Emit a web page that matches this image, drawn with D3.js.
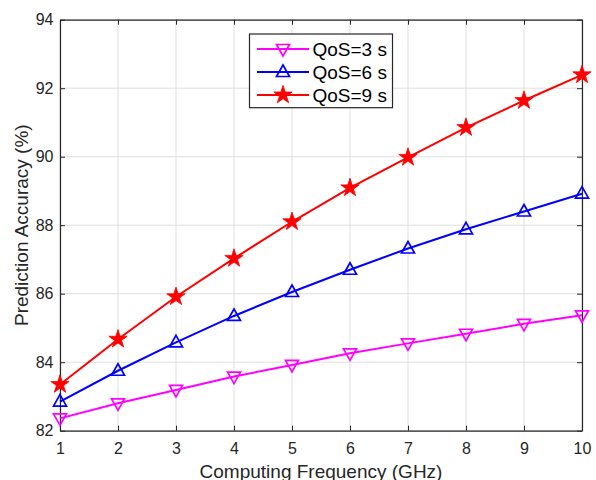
<!DOCTYPE html>
<html><head><meta charset="utf-8">
<script src="https://cdn.jsdelivr.net/npm/d3@7"></script>
<style>body{margin:0;background:#fff}svg{display:block}text{font-family:"Liberation Sans",Arial,sans-serif}</style>
</head><body><svg id="c" width="596" height="480"></svg>
<script>
const freq = [1,2,3,4,5,6,7,8,9,10];
const qos3 = [82.36,82.80,83.19,83.58,83.92,84.26,84.55,84.83,85.12,85.37];
const qos6 = [82.85,83.75,84.58,85.35,86.05,86.70,87.32,87.88,88.40,88.92];
const qos9 = [83.35,84.67,85.91,87.03,88.10,89.09,89.98,90.85,91.64,92.39];
const seriesNames = ["QoS=3 s","QoS=6 s","QoS=9 s"];
const xTicks = [1,2,3,4,5,6,7,8,9,10];
const yTicks = [82,84,86,88,90,92,94];

const svg = d3.select("#c");
const L=60,R=582,T=19.7,B=430.7;
const x = d3.scaleLinear().domain([1,10]).range([L,R]);
const y = d3.scaleLinear().domain([82,94]).range([B,T]);
const axc="#262626";

// grid
svg.append("g").selectAll("line").data(xTicks).join("line")
  .attr("x1",d=>x(d)).attr("x2",d=>x(d)).attr("y1",T).attr("y2",B)
  .attr("stroke","#dfdfdf").attr("stroke-width",1);
svg.append("g").selectAll("line").data(yTicks).join("line")
  .attr("y1",d=>y(d)).attr("y2",d=>y(d)).attr("x1",L).attr("x2",R)
  .attr("stroke","#dfdfdf").attr("stroke-width",1);

// axes
const fmt = d3.format("d");
const gx = svg.append("g").attr("transform",`translate(0,${B})`)
  .call(d3.axisBottom(x).tickValues(xTicks).tickFormat(fmt).tickSizeInner(-5).tickSizeOuter(0).tickPadding(12));
const gxt = svg.append("g").attr("transform",`translate(0,${T})`)
  .call(d3.axisTop(x).tickValues(xTicks).tickFormat("").tickSizeInner(-5).tickSizeOuter(0));
const gy = svg.append("g").attr("transform",`translate(${L},0)`)
  .call(d3.axisLeft(y).tickValues(yTicks).tickFormat(fmt).tickSizeInner(-5).tickSizeOuter(0).tickPadding(6.5));
const gyr = svg.append("g").attr("transform",`translate(${R},0)`)
  .call(d3.axisRight(y).tickValues(yTicks).tickFormat("").tickSizeInner(-5).tickSizeOuter(0));
[gx,gxt,gy,gyr].forEach(g=>{
  g.select(".domain").attr("stroke",axc).attr("stroke-width",1.2);
  g.selectAll(".tick line").attr("stroke",axc).attr("stroke-width",1);
  g.selectAll(".tick text").attr("fill",axc).style("font-size","16px").style("font-family","Liberation Sans, Arial, sans-serif");
});

// labels
svg.append("text").attr("x",321).attr("y",478).attr("text-anchor","middle")
  .attr("fill",axc).style("font-size","19px").text("Computing Frequency (GHz)");
svg.append("text").attr("transform",`translate(28,${(T+B)/2}) rotate(-90)`).attr("text-anchor","middle")
  .attr("fill",axc).style("font-size","19px").text("Prediction Accuracy (%)");

// series
const series = [
  {name:seriesNames[0], vals:qos3, color:"#ff00ff", marker:"down"},
  {name:seriesNames[1], vals:qos6, color:"#0000ff", marker:"up"},
  {name:seriesNames[2], vals:qos9, color:"#ff0000", marker:"star"}
];
const line = d3.line().x((d,i)=>x(freq[i])).y(d=>y(d));
function drawMarker(g, type, cx, cy, color){
  if(type==="up"){
    g.append("path").attr("d",`M${cx},${cy-7}L${cx+6.5},${cy+4.5}L${cx-6.5},${cy+4.5}Z`)
     .attr("fill","none").attr("stroke",color).attr("stroke-width",1.7);
  } else if(type==="down"){
    g.append("path").attr("d",`M${cx},${cy+7}L${cx+6.5},${cy-4.5}L${cx-6.5},${cy-4.5}Z`)
     .attr("fill","none").attr("stroke",color).attr("stroke-width",1.7);
  } else {
    g.append("path").attr("d",d3.symbol(d3.symbolStar,105)())
     .attr("transform",`translate(${cx},${cy})`).attr("fill",color).attr("stroke",color).attr("stroke-width",0.8);
  }
}
series.forEach(s=>{
  svg.append("path").datum(s.vals).attr("d",line).attr("fill","none")
    .attr("stroke",s.color).attr("stroke-width",2);
  const g = svg.append("g");
  s.vals.forEach((v,i)=>drawMarker(g,s.marker,x(freq[i]),y(v),s.color));
});

// legend
const lg = svg.append("g");
lg.append("rect").attr("x",249.5).attr("y",34).attr("width",143).attr("height",73.7)
  .attr("fill","#fff").attr("stroke",axc).attr("stroke-width",1.2);
series.forEach((s,i)=>{
  const yy = 49 + i*23;
  lg.append("line").attr("x1",257).attr("x2",309).attr("y1",yy).attr("y2",yy)
    .attr("stroke",s.color).attr("stroke-width",2);
  drawMarker(lg,s.marker,283,yy,s.color);
  lg.append("text").attr("x",312.5).attr("y",yy+6.8).attr("fill","#000")
    .style("font-size","19px").text(s.name);
});
</script></body></html>
